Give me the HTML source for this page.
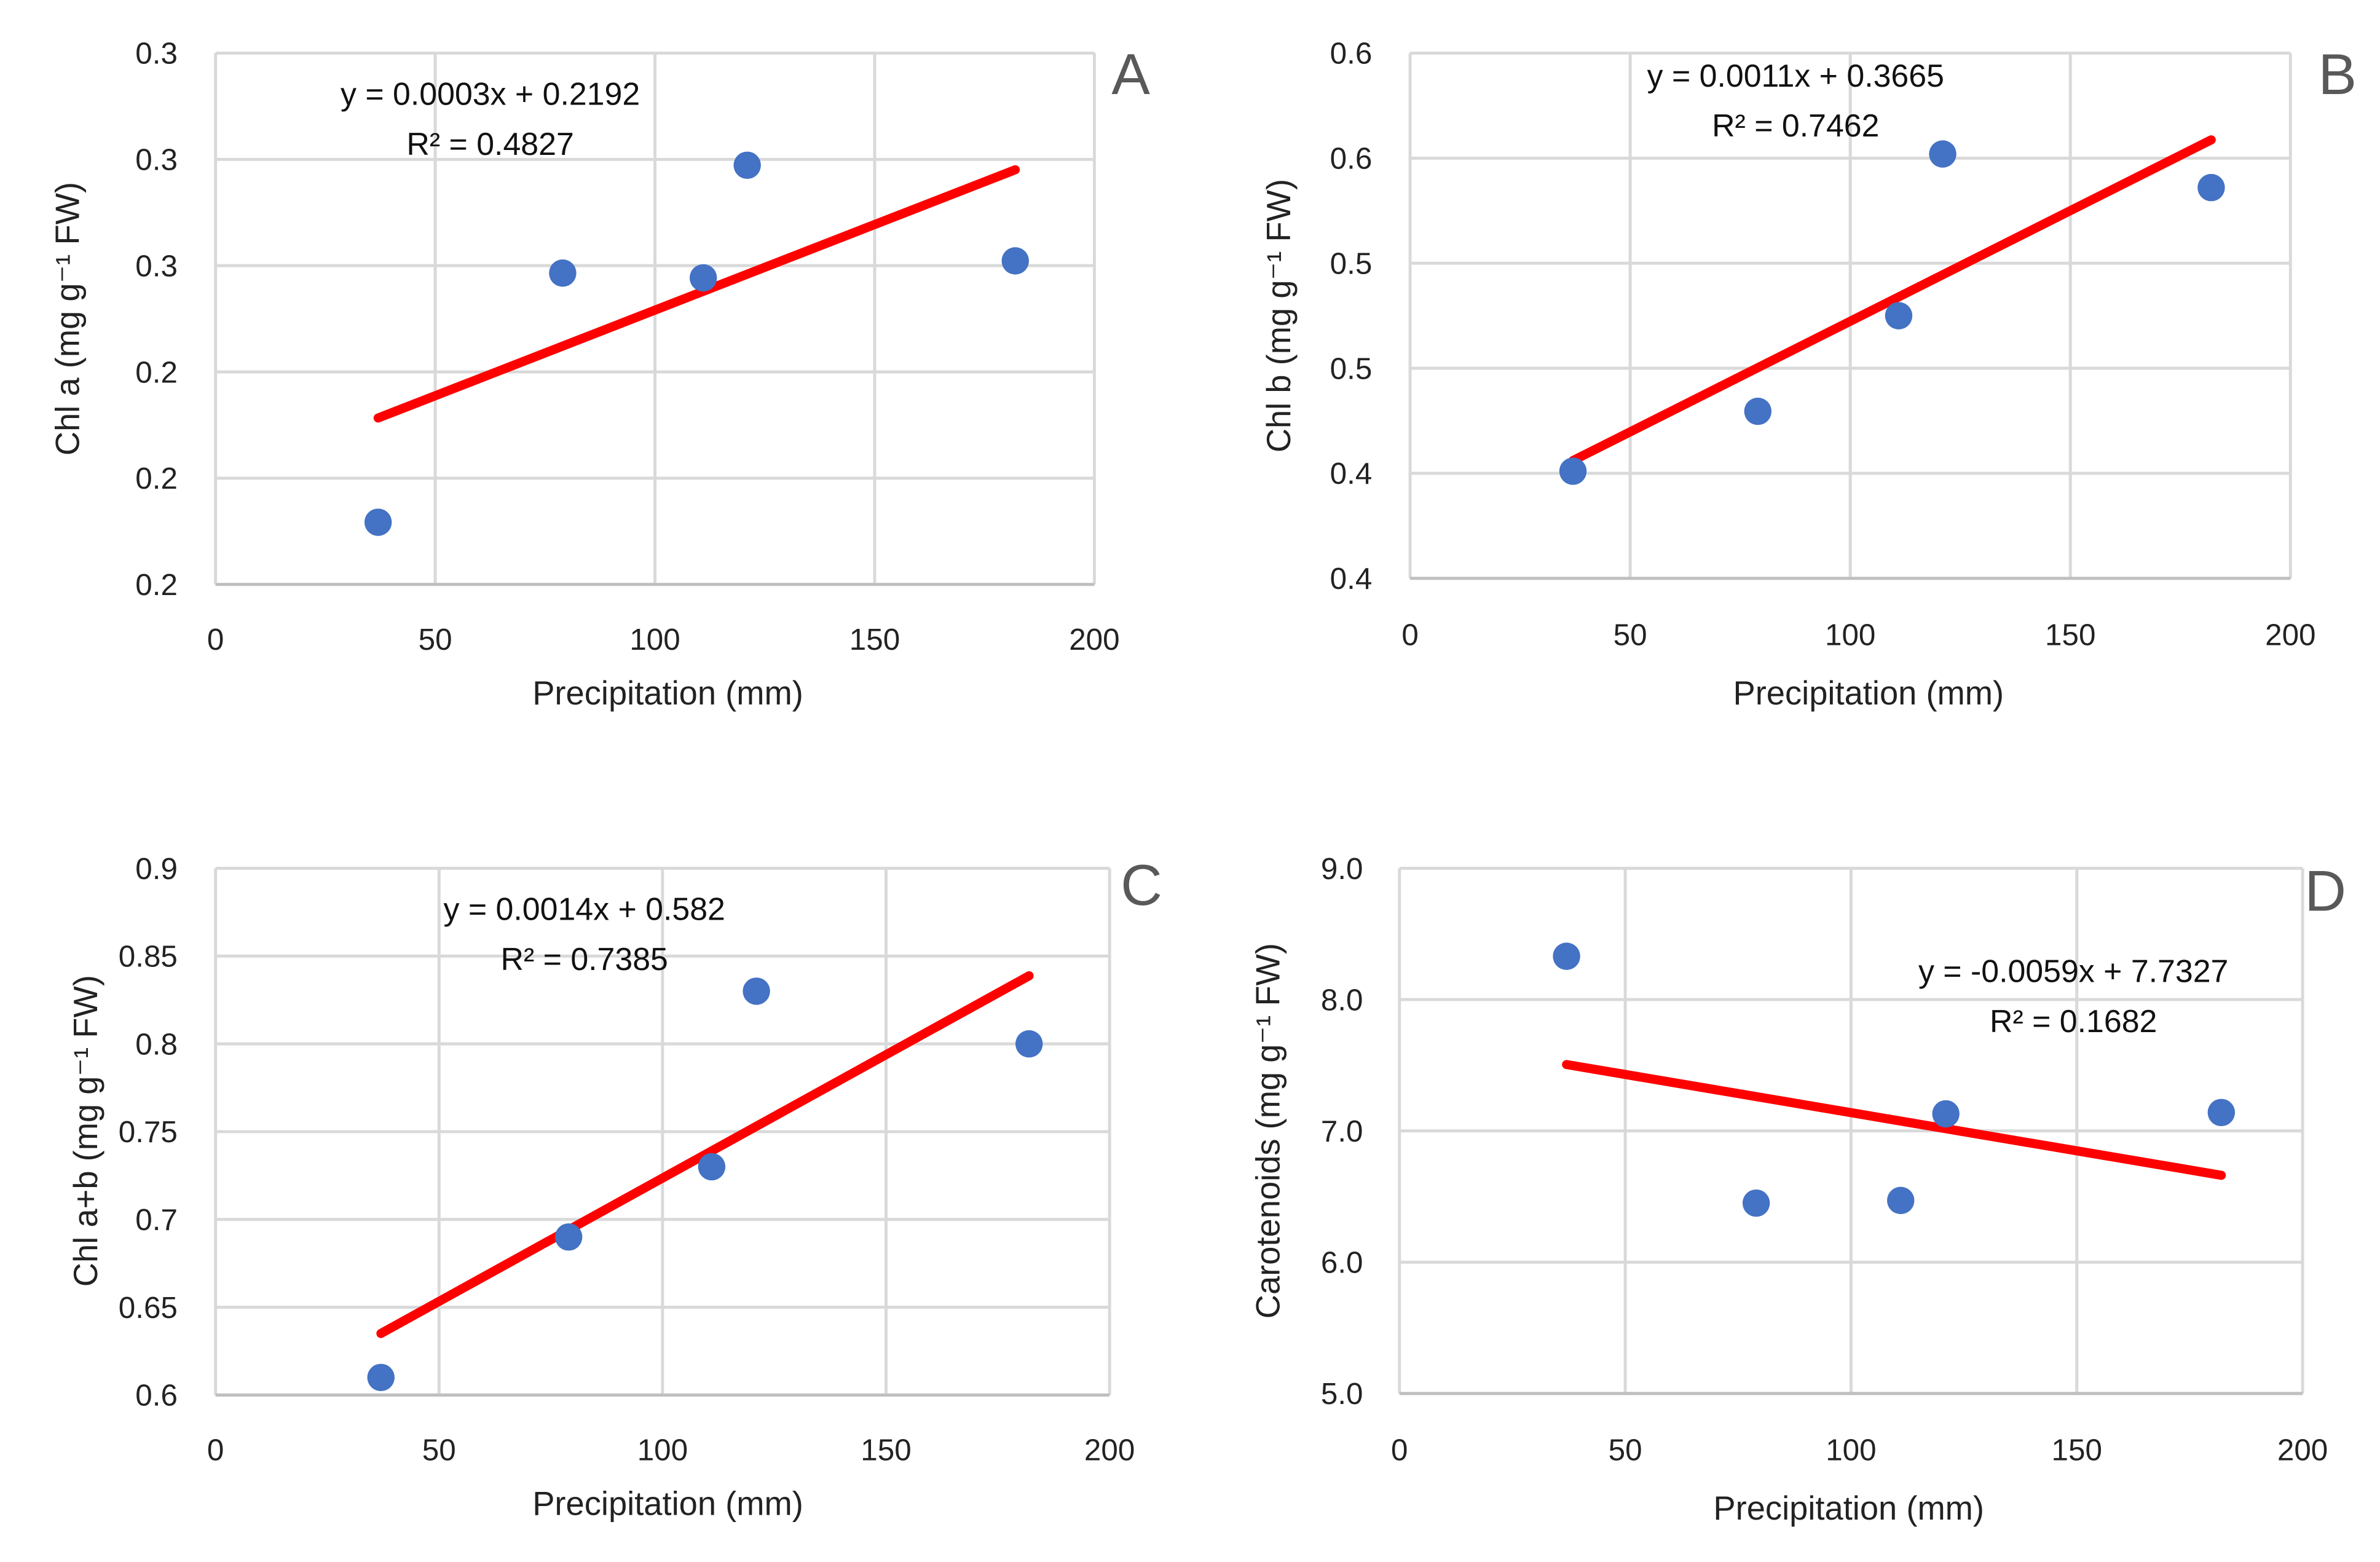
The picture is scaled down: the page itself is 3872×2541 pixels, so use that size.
<!DOCTYPE html>
<html><head><meta charset="utf-8"><style>
html,body{margin:0;padding:0;background:#fff;}
svg{display:block;}
text{font-family:"Liberation Sans",sans-serif;}
</style></head><body>
<svg id="chart" width="3872" height="2541" viewBox="0 0 1568 1029" xmlns="http://www.w3.org/2000/svg"></svg>
<script>
const precipitation = [37, 79, 111, 121, 182];
const chlA = [0.2117, 0.2586, 0.2577, 0.2789, 0.2609];
const chlB = [0.401, 0.4295, 0.475, 0.552, 0.536];
const chlAB = [0.61, 0.69, 0.73, 0.83, 0.80];
const carot = [8.33, 6.45, 6.47, 7.13, 7.14];
const xTicks = [0, 50, 100, 150, 200];
const yTicksA = [0.20, 0.22, 0.24, 0.26, 0.28, 0.30];
const yTicksB = [0.35, 0.40, 0.45, 0.50, 0.55, 0.60];
const yTicksC = [0.6, 0.65, 0.7, 0.75, 0.8, 0.85, 0.9];
const yTicksD = [5, 6, 7, 8, 9];
const eqTexts = ['y = 0.0003x + 0.2192','y = 0.0011x + 0.3665','y = 0.0014x + 0.582','y = -0.0059x + 7.7327'];
const r2Texts = ['R\u00B2 = 0.4827','R\u00B2 = 0.7462','R\u00B2 = 0.7385','R\u00B2 = 0.1682'];

const NS = "http://www.w3.org/2000/svg";
const svg = document.getElementById('chart');
function mk(tag, attrs, parent){const e=document.createElementNS(NS,tag);for(const k in attrs)e.setAttribute(k,attrs[k]);(parent||svg).appendChild(e);return e;}
function fit(xs, ys){
  const n=xs.length, mx=xs.reduce((a,b)=>a+b,0)/n, my=ys.reduce((a,b)=>a+b,0)/n;
  let sxy=0,sxx=0; xs.forEach((x,i)=>{sxy+=(x-mx)*(ys[i]-my);sxx+=(x-mx)*(x-mx);});
  const m=sxy/sxx; return [m, my-m*mx];
}

const panels = [
 {id:'a',L:142,R:721,T:35,B:385,yt:yTicksA,ys:chlA,fmt:v=>v.toFixed(1),ylab:117,xlabY:428,
  title:'Chl a (mg g\u207B\u00B9 FW)',tx:44,ty:210,xtY:464,xtX:440,letter:'A',lx:745,ly:62,ex:323,ey:69},
 {id:'b',L:929,R:1509,T:35,B:381,yt:yTicksB,ys:chlB,fmt:v=>(Math.round(v*10+1e-9)/10).toFixed(1),ylab:904,xlabY:425,
  title:'Chl b (mg g\u207B\u00B9 FW)',tx:842,ty:208,xtY:464,xtX:1231,letter:'B',lx:1540,ly:62,ex:1183,ey:57},
 {id:'c',L:142,R:731,T:572,B:919,yt:yTicksC,ys:chlAB,fmt:v=>String(+v.toFixed(2)),ylab:117,xlabY:962,
  title:'Chl a+b (mg g\u207B\u00B9 FW)',tx:56,ty:745,xtY:998,xtX:440,letter:'C',lx:752,ly:596,ex:385,ey:606},
 {id:'d',L:922,R:1517,T:572,B:918,yt:yTicksD,ys:carot,fmt:v=>v.toFixed(1),ylab:898,xlabY:962,
  title:'Carotenoids (mg g\u207B\u00B9 FW)',tx:835,ty:745,xtY:1001,xtX:1218,letter:'D',lx:1532,ly:600,ex:1366,ey:647}
];

panels.forEach((p,pi)=>{
  const g = mk('g',{});
  
  
  const y0=p.yt[0], y1=p.yt[p.yt.length-1];
  const sx = v => p.L + (v - xTicks[0])/(xTicks[xTicks.length-1]-xTicks[0])*(p.R-p.L);
  const sy = v => p.B - (v - y0)/(y1-y0)*(p.B-p.T);
  xTicks.forEach(t=>{
    const l=mk('line',{x1:sx(t),x2:sx(t),y1:p.T,y2:p.B,stroke:'#d9d9d9','stroke-width':2},g);
    
    
    const tx=mk('text',{x:sx(t),y:p.xlabY,'text-anchor':'middle','font-size':20,fill:'#222'},g);
    tx.textContent=t;
    
    
  });
  p.yt.forEach(t=>{
    const l=mk('line',{x1:p.L,x2:p.R,y1:sy(t),y2:sy(t),stroke:'#d9d9d9','stroke-width':2},g);
    
    
    const tx=mk('text',{x:p.ylab,y:sy(t)+7,'text-anchor':'end','font-size':20,fill:'#222'},g);
    tx.textContent=p.fmt(t);
    
    
  });
  const ax=mk('line',{x1:p.L,x2:p.R,y1:p.B,y2:p.B,stroke:'#bfbfbf','stroke-width':2},g);
  
  
  const tr=fit(precipitation,p.ys);
  const xa=Math.min(...precipitation), xb=Math.max(...precipitation);
  const tl=mk('line',{x1:sx(xa),y1:sy(tr[0]*xa+tr[1]),x2:sx(xb),y2:sy(tr[0]*xb+tr[1]),stroke:'#ff0000','stroke-width':6,'stroke-linecap':'round'},g);
  
  
  precipitation.forEach((x,i)=>{
    const c=mk('circle',{cx:sx(x),cy:sy(p.ys[i]),r:9,fill:'#4472c4'},g);
    
    
  });
  const e1=mk('text',{x:p.ex,y:p.ey,'text-anchor':'middle','font-size':21,fill:'#111'},g);
  e1.textContent=eqTexts[pi];
  
  
  const e2=mk('text',{x:p.ex,y:p.ey+33,'text-anchor':'middle','font-size':21,fill:'#111'},g);
  e2.textContent=r2Texts[pi];
  
  
  const xt=mk('text',{x:p.xtX,y:p.xtY,'text-anchor':'middle','font-size':22,fill:'#222'},g);
  xt.textContent='Precipitation (mm)';
  
  
  const yt=mk('text',{x:0,y:0,'text-anchor':'middle','font-size':22,fill:'#222',transform:`translate(${p.tx+8},${p.ty}) rotate(-90)`},g);
  yt.textContent=p.title;
  
  
  const lt=mk('text',{x:p.lx,y:p.ly,'text-anchor':'middle','font-size':38,fill:'#595959'},g);
  lt.textContent=p.letter;
  
  
});
</script>
</body></html>
